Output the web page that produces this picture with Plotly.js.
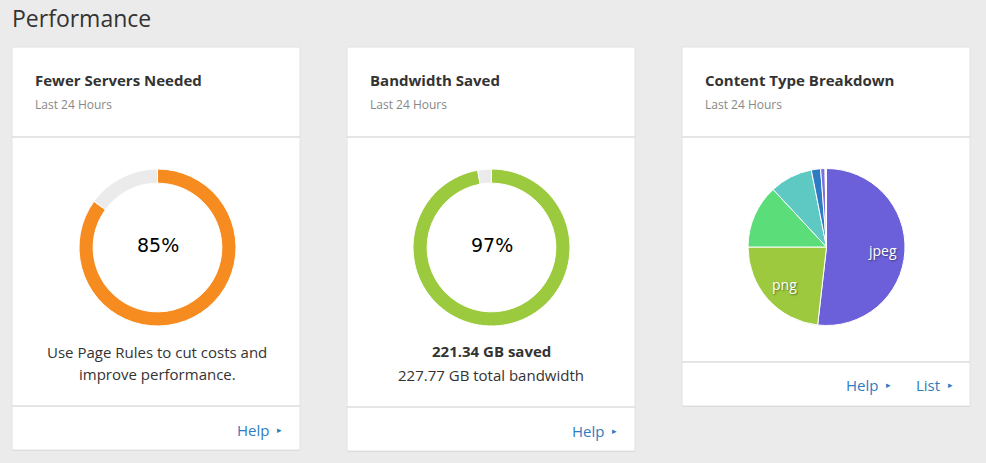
<!DOCTYPE html>
<html>
<head>
<meta charset="utf-8">
<script src="https://cdn.plot.ly/plotly-3.0.1.min.js"></script>
<style>
html,body{margin:0;padding:0;background:#ebebeb;}
#chart{width:986px;height:463px;}
</style>
</head>
<body>
<div id="chart"></div>
<script>
// ---- data ----
var serversLabels = ["Fewer servers", "Remaining"];
var serversValues = [85, 15];
var bandwidthLabels = ["Saved", "Not saved"];
var bandwidthValues = [221.34, 6.43];
var contentLabels = ["jpeg", "png", "gif", "svg", "x-icon", "webp", "other"];
var contentValues = [51.8, 23.2, 13.1, 8.8, 1.9, 0.9, 0.3];
var contentShown = [true, true, false, false, false, false, false];
var cardTitles = ["Fewer Servers Needed", "Bandwidth Saved", "Content Type Breakdown"];
var cardSubtitle = "Last 24 Hours";

var W = 986, H = 463;
function px(x){ return x / W; }
function py(y){ return 1 - y / H; }
function dom(x0, x1, y0, y1){ return {x:[px(x0), px(x1)], y:[py(y1), py(y0)]}; }

var pct1 = Math.round(100 * serversValues[0] / (serversValues[0] + serversValues[1]));
var pct2 = Math.round(100 * bandwidthValues[0] / (bandwidthValues[0] + bandwidthValues[1]));
var totalBw = bandwidthValues[0] + bandwidthValues[1];

var pieBox = {x0:748, x1:905, y0:168, y1:326};

var traces = [
  {type:"pie", labels:serversLabels, values:serversValues, hole:0.82, sort:false,
   direction:"clockwise", rotation:0, textinfo:"none", hoverinfo:"none",
   marker:{colors:["#f68b1f", "#ebebeb"], line:{color:"#ffffff", width:1}},
   domain:dom(79, 236, 169, 326), showlegend:false},
  {type:"pie", labels:bandwidthLabels, values:bandwidthValues, hole:0.82, sort:false,
   direction:"clockwise", rotation:0, textinfo:"none", hoverinfo:"none",
   marker:{colors:["#9bca3e", "#ebebeb"], line:{color:"#ffffff", width:1}},
   domain:dom(413, 570, 169, 326), showlegend:false},
  {type:"pie", labels:contentLabels, values:contentValues, sort:false,
   direction:"clockwise", rotation:0, textinfo:"none", hoverinfo:"label+percent",
   marker:{colors:["#6b60d9", "#9dc93e", "#5bde79", "#5ec9c3", "#2e7bc4", "#7a70e0", "#f3f3ff"],
           line:{color:"#ffffff", width:1}},
   domain:dom(pieBox.x0, pieBox.x1, pieBox.y0, pieBox.y1), showlegend:false}
];

var cards = [
  {x0:12, x1:300, y1:450, foot:406},
  {x0:347, x1:635, y1:451, foot:407},
  {x0:682, x1:970, y1:406, foot:362}
];
var shapes = [];
var ann = [];
cards.forEach(function(c, i){
  shapes.push({type:"rect", xref:"paper", yref:"paper", x0:px(c.x0), x1:px(c.x1), y0:py(c.y1+1), y1:py(48),
    fillcolor:"#d9d9d9", line:{width:0}, layer:"below"});
  shapes.push({type:"rect", xref:"paper", yref:"paper", x0:px(c.x0), x1:px(c.x1), y0:py(c.y1), y1:py(47),
    fillcolor:"#ffffff", line:{color:"#e2e2e2", width:1}, layer:"below"});
  shapes.push({type:"line", xref:"paper", yref:"paper", x0:px(c.x0), x1:px(c.x1), y0:py(137), y1:py(137),
    line:{color:"#dddddd", width:1.5}, layer:"below"});
  shapes.push({type:"line", xref:"paper", yref:"paper", x0:px(c.x0), x1:px(c.x1), y0:py(c.foot), y1:py(c.foot),
    line:{color:"#dddddd", width:1.5}, layer:"below"});
  ann.push({xref:"paper", yref:"paper", x:px(c.x0+21), y:py(80), xanchor:"left", yanchor:"middle",
    text:"<b>"+cardTitles[i]+"</b>", showarrow:false, font:{family:"Open Sans", size:15, color:"#333333"}});
  ann.push({xref:"paper", yref:"paper", x:px(c.x0+21), y:py(104), xanchor:"left", yanchor:"middle",
    text:cardSubtitle, showarrow:false, font:{family:"Open Sans", size:12, color:"#888888"}});
});

// pie labels placed along each slice's mid-angle (derived from the values)
var totalContent = contentValues.reduce(function(a, b){ return a + b; }, 0);
var cx = (pieBox.x0 + pieBox.x1) / 2, cy = (pieBox.y0 + pieBox.y1) / 2, R = (pieBox.x1 - pieBox.x0) / 2;
var acc = 0;
contentValues.forEach(function(v, i){
  var mid = (acc + v / 2) / totalContent * 2 * Math.PI;
  acc += v;
  if (!contentShown[i]) return;
  var lx = cx + 0.72 * R * Math.sin(mid), ly = cy - 0.72 * R * Math.cos(mid);
  ann.push({xref:"paper", yref:"paper", x:px(lx), y:py(ly), xanchor:"center", yanchor:"middle",
    text:contentLabels[i], showarrow:false,
    font:{family:"Open Sans", size:14, color:"#ffffff", shadow:"1px 1px 2px rgba(0,0,0,0.45)"}});
});

function link(label, xr, y){
  ann.push({xref:"paper", yref:"paper", x:px(xr), y:py(y), xanchor:"right", yanchor:"middle",
    text:label, showarrow:false, font:{family:"Open Sans", size:15, color:"#2f7bc0"}});
  ann.push({xref:"paper", yref:"paper", x:px(xr+8), y:py(y), xanchor:"center", yanchor:"middle",
    text:"▸", showarrow:false, font:{family:"DejaVu Sans", size:9, color:"#2f7bc0"}});
}
link("Help", 271, 430);
link("Help", 606, 431);
link("Help", 880, 385);
link("List", 942, 385);

ann.push({xref:"paper", yref:"paper", x:px(10), y:py(18), xanchor:"left", yanchor:"middle",
  text:"Performance", showarrow:false, font:{family:"Open Sans", size:23, color:"#333333"}});
ann.push({xref:"paper", yref:"paper", x:px(157.5), y:py(245), xanchor:"center", yanchor:"middle",
  text:pct1+"%", showarrow:false, font:{family:"DejaVu Sans", size:19, color:"#000000"}});
ann.push({xref:"paper", yref:"paper", x:px(491.5), y:py(245), xanchor:"center", yanchor:"middle",
  text:pct2+"%", showarrow:false, font:{family:"DejaVu Sans", size:19, color:"#000000"}});
ann.push({xref:"paper", yref:"paper", x:px(157), y:py(352), xanchor:"center", yanchor:"middle",
  text:"Use Page Rules to cut costs and", showarrow:false, font:{family:"Open Sans", size:15, color:"#333333"}});
ann.push({xref:"paper", yref:"paper", x:px(157), y:py(374), xanchor:"center", yanchor:"middle",
  text:"improve performance.", showarrow:false, font:{family:"Open Sans", size:15, color:"#333333"}});
ann.push({xref:"paper", yref:"paper", x:px(491), y:py(351), xanchor:"center", yanchor:"middle",
  text:"<b>"+bandwidthValues[0].toFixed(2)+" GB saved</b>", showarrow:false, font:{family:"Open Sans", size:15, color:"#333333"}});
ann.push({xref:"paper", yref:"paper", x:px(491), y:py(375), xanchor:"center", yanchor:"middle",
  text:totalBw.toFixed(2)+" GB total bandwidth", showarrow:false, font:{family:"Open Sans", size:15, color:"#333333"}});

var layout = {
  width:W, height:H, margin:{l:0, r:0, t:0, b:0},
  paper_bgcolor:"#ebebeb", plot_bgcolor:"#ebebeb",
  shapes:shapes, annotations:ann, showlegend:false
};
Plotly.newPlot("chart", traces, layout, {displayModeBar:false, staticPlot:true});
</script>
</body>
</html>
